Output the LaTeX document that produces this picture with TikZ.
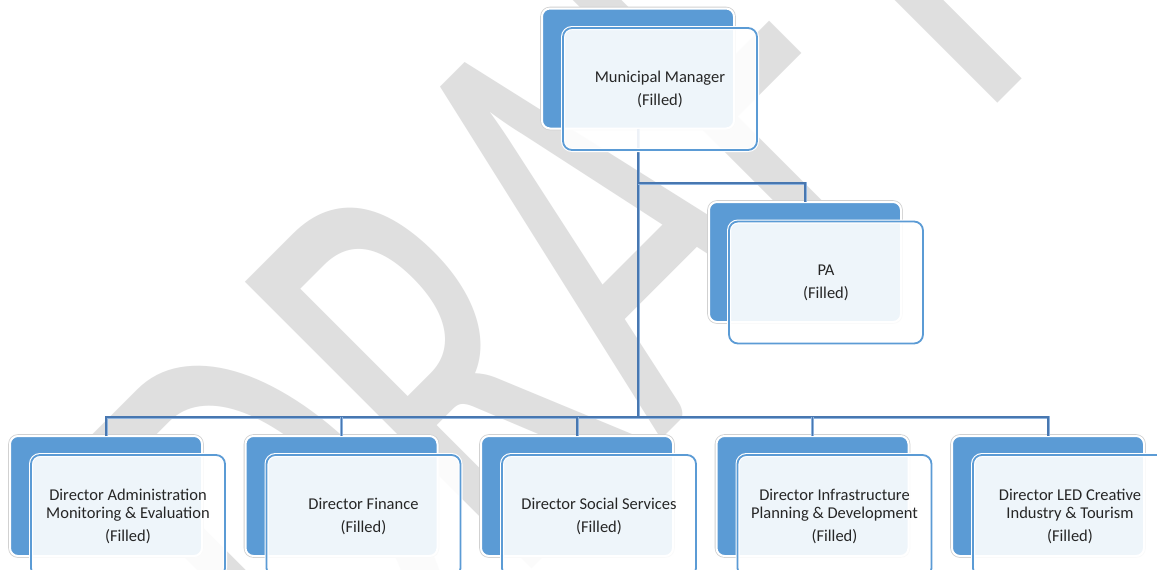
\documentclass[tikz,border=0pt]{standalone}
\usepackage{fontspec}
\newfontfamily\boxfont{Carlito}
\newfontfamily\wmfont{Carlito}
\definecolor{backblue}{HTML}{5B9BD5}
\definecolor{linkblue}{HTML}{4877B0}
\definecolor{linkhalo}{HTML}{8DB3DF}
\definecolor{wmgray}{HTML}{DFDFDF}
\definecolor{txt}{HTML}{262626}
\begin{document}
\begin{tikzpicture}[x=0.5pt,y=-0.5pt,
  backbox/.style={rectangle, rounded corners=4pt, fill=backblue, draw=white,
    line width=1pt, preaction={draw=black!18, line width=1.8pt},
    minimum width=96pt, minimum height=60pt, inner sep=0pt, outer sep=0pt},
  frontbox/.style={rectangle, rounded corners=4.5pt, fill=white, fill opacity=0.9,
    text opacity=1, draw=backblue, line width=0.9pt,
    preaction={draw=white, line width=2pt},
    minimum width=97pt, minimum height=61pt, inner sep=0pt, outer sep=0pt,
    align=center, text=txt, font=\boxfont\fontsize{8.25}{9}\selectfont},
  link/.style={draw=linkblue, line width=0.8pt,
    preaction={draw=linkhalo, line width=1.5pt}}
]
\useasboundingbox (0,0) rectangle (1157,569);
\clip (0,0) rectangle (1157,569);
\fill[white] (0,0) rectangle (1157,569);

% diagonal watermark behind the chart
\begin{scope}[shift={(711,390)}, rotate=45, xscale=0.61]
  \node[transform shape, anchor=base, inner sep=0pt, text=wmgray,
        font=\wmfont\fontsize{316}{316}\selectfont] (wm) at (0,0) {DRAFT};
\end{scope}

% back panels
\node[backbox] (mm) at (638,68.5) {};
\node[backbox] (pa) at (805,262) {};
\node[backbox] (d1) at (106,496) {};
\node[backbox] (d2) at (341.5,496) {};
\node[backbox] (d3) at (577,496) {};
\node[backbox] (d4) at (812.5,496) {};
\node[backbox] (d5) at (1048,496) {};

% connectors
\coordinate (bus) at (0,417);
\coordinate (paY) at (0,183);
\draw[link] (mm.south) -- (mm.south |- bus);
\draw[link] (mm.south |- paY) -| (pa.north);
\draw[link] (d1.north) |- (d5.north |- bus) -- (d5.north);
\foreach \n in {d2,d3,d4} \draw[link] (\n.north) -- (\n.north |- bus);

% front panels with the titles
\node[frontbox] (mmt) at (660,89) {Municipal Manager\\[2.5pt](Filled)};
\node[frontbox] (pat) at (826,282.5) {PA\\[2.5pt](Filled)};
\node[frontbox] (d1t) at (128,516) {Director Administration\\Monitoring \& Evaluation\\[2.5pt](Filled)};
\node[frontbox] (d2t) at (363.5,516) {Director Finance\\[2.5pt](Filled)};
\node[frontbox] (d3t) at (599,516) {Director Social Services\\[2.5pt](Filled)};
\node[frontbox] (d4t) at (834.5,516) {Director Infrastructure\\Planning \& Development\\[2.5pt](Filled)};
\node[frontbox] (d5t) at (1070,516) {Director LED Creative\\Industry \& Tourism\\[2.5pt](Filled)};
\end{tikzpicture}
\end{document}
